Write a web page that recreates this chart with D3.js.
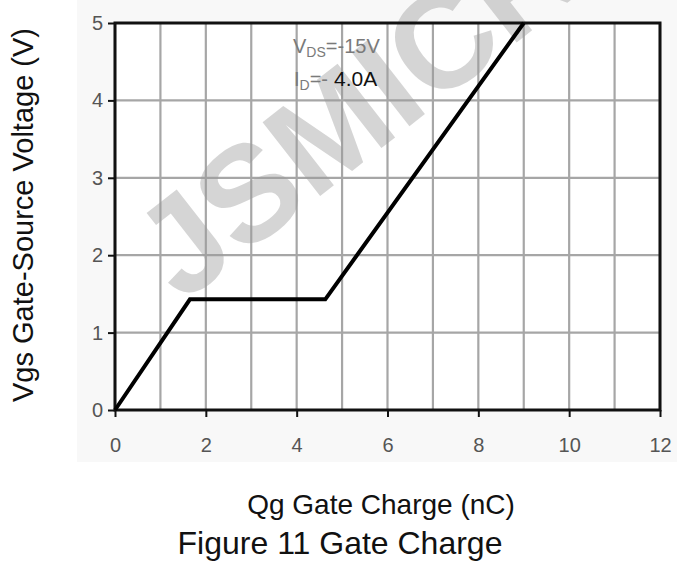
<!DOCTYPE html>
<html>
<head>
<meta charset="utf-8">
<script src="https://cdn.jsdelivr.net/npm/d3@7"></script>
<style>
  html, body { margin: 0; padding: 0; background: #fff; }
  svg { display: block; font-family: Arial, "Liberation Sans", sans-serif; }
</style>
</head>
<body>
<svg id="chart" width="680" height="563"></svg>
<script>
// Gate charge curve: Qg (nC) vs Vgs (V)
const chargeNC = [0, 1.65, 4.63, 9.0];
const gateVolts = [0, 1.43, 1.43, 5.0];
const xTicks = [0, 2, 4, 6, 8, 10, 12];
const yTicks = [0, 1, 2, 3, 4, 5];
const xGrid = d3.range(0, 13, 1);
const yGrid = d3.range(0, 6, 1);

const svg = d3.select("#chart");
const plotL = 115, plotR = 660, plotT = 23, plotB = 410;
const FONT = "Arial, 'Liberation Sans', sans-serif";

const x = d3.scaleLinear().domain([0, 12]).range([plotL, plotR]);
const y = d3.scaleLinear().domain([0, 5]).range([plotB, plotT]);

// faint panel behind the axes
svg.append("rect")
  .attr("x", 77).attr("y", 0).attr("width", 600).attr("height", 462)
  .attr("fill", "#f8f8f8");
svg.append("rect")
  .attr("x", plotL).attr("y", plotT).attr("width", plotR - plotL).attr("height", plotB - plotT)
  .attr("fill", "#fff");

// grid
const grid = svg.append("g").attr("stroke", "#a6a6a6").attr("stroke-width", 2.2);
grid.selectAll("line.v").data(xGrid).join("line").attr("class", "v")
  .attr("x1", d => x(d)).attr("x2", d => x(d))
  .attr("y1", plotT).attr("y2", plotB);
grid.selectAll("line.h").data(yGrid).join("line").attr("class", "h")
  .attr("y1", d => y(d)).attr("y2", d => y(d))
  .attr("x1", plotL).attr("x2", plotR);

// watermark
svg.append("text")
  .attr("transform", "translate(182,304) rotate(-38)")
  .attr("font-size", 136)
  .attr("font-weight", "bold")
  .attr("font-family", FONT)
  .attr("fill", "#9a9a9a")
  .attr("fill-opacity", 0.42)
  .text("JSMICRO");

// axes
const xAxis = d3.axisBottom(x).tickValues(xTicks).tickSize(7).tickPadding(21).tickFormat(d3.format("d"));
const yAxis = d3.axisLeft(y).tickValues(yTicks).tickSize(7).tickPadding(5).tickFormat(d3.format("d"));

const gx = svg.append("g").attr("transform", `translate(0,${plotB})`).call(xAxis);
const gy = svg.append("g").attr("transform", `translate(${plotL},0)`).call(yAxis);
[gx, gy].forEach(g => {
  g.attr("font-family", FONT);
  g.select(".domain").remove();
  g.selectAll(".tick line").attr("stroke", "#111").attr("stroke-width", 2);
  g.selectAll(".tick text").attr("fill", "#555").style("font-size", "20px");
});

// frame
svg.append("rect")
  .attr("x", plotL).attr("y", plotT).attr("width", plotR - plotL).attr("height", plotB - plotT)
  .attr("fill", "none").attr("stroke", "#111").attr("stroke-width", 3);

// curve
const line = d3.line().x((d, i) => x(chargeNC[i])).y(d => y(d));
svg.append("path")
  .datum(gateVolts)
  .attr("d", line)
  .attr("fill", "none")
  .attr("stroke", "#000")
  .attr("stroke-width", 4)
  .attr("stroke-linejoin", "miter");

// test conditions
const note = svg.append("g").attr("font-size", 20).attr("font-family", FONT);
const t1 = note.append("text").attr("x", 293).attr("y", 53).attr("fill", "#7a7a7a");
t1.append("tspan").text("V");
t1.append("tspan").attr("font-size", 14).attr("dy", 4).text("DS");
t1.append("tspan").attr("dy", -4).text("=-15V");
const t2 = note.append("text").attr("x", 294).attr("y", 86).attr("fill", "#7a7a7a");
t2.append("tspan").text("I");
t2.append("tspan").attr("font-size", 14).attr("dy", 4).text("D");
t2.append("tspan").attr("dy", -4).text("=-");
t2.append("tspan").attr("dx", 6).attr("font-size", 21).attr("fill", "#111").text("4.0A");

// axis titles
svg.append("text")
  .attr("transform", "translate(33,215) rotate(-90)")
  .attr("text-anchor", "middle")
  .attr("font-size", 29)
  .attr("fill", "#111")
  .text("Vgs Gate-Source Voltage (V)");
svg.append("text")
  .attr("x", 381).attr("y", 514)
  .attr("text-anchor", "middle")
  .attr("font-size", 28)
  .attr("fill", "#111")
  .text("Qg Gate Charge (nC)");
svg.append("text")
  .attr("x", 340).attr("y", 554)
  .attr("text-anchor", "middle")
  .attr("font-size", 32)
  .attr("fill", "#111")
  .text("Figure 11 Gate Charge");
</script>
</body>
</html>
